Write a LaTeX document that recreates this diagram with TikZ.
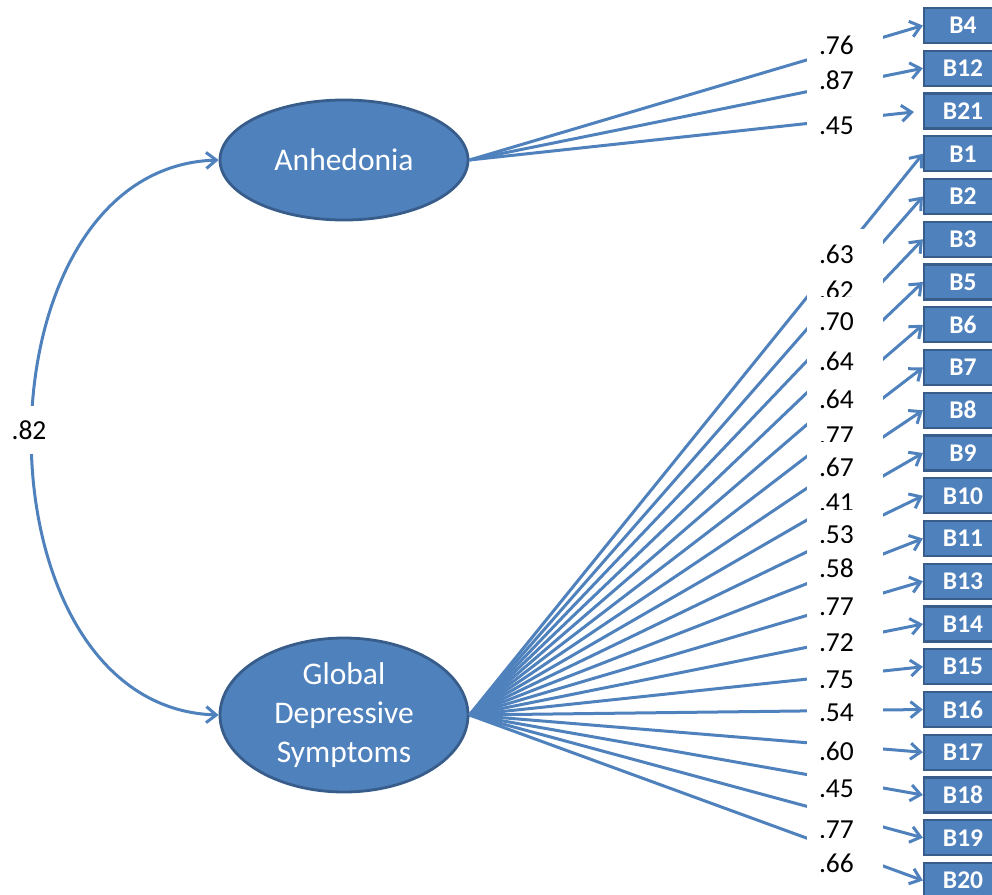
\documentclass[tikz,border=0pt]{standalone}
\usepackage{fontspec}
\setmainfont{Carlito}
\usetikzlibrary{arrows.meta,shapes.geometric}
\definecolor{ablue}{HTML}{4F81BD}
\definecolor{dblue}{HTML}{385D8A}
\begin{document}
\begin{tikzpicture}[x=1pt,y=-1pt,
  lat/.style={ellipse, fill=ablue, draw=dblue, line width=2.8pt, text=white,
    font=\fontsize{31.5}{39}\selectfont, align=center, minimum width=248, inner sep=0pt},
  obs/.style={rectangle, fill=ablue, draw=dblue, line width=2.2pt, text=white,
    font=\fontsize{25.5}{25.5}\bfseries\selectfont, minimum width=78, minimum height=35, inner sep=0pt},
  arr/.style={draw=ablue, line width=3pt, -{Straight Barb[length=10pt,width=16pt]}},
  lab/.style={fill=white, text width=52, inner xsep=12, inner ysep=0, minimum height=50,
    align=left, font=\fontsize{27.5}{30}\selectfont}]
\useasboundingbox (0,0) rectangle (992,894);
\clip (0,0) rectangle (992,894);
\node[lat, minimum height=120] (A) at (344,160) {Anhedonia};
\node[lat, minimum height=154] (G) at (344,715) {Global\\Depressive\\Symptoms};
% indicator boxes
\foreach \n/\i in {B4/0,B12/1,B21/2,B1/3,B2/4,B3/5,B5/6,B6/7,B7/8,B8/9,B9/10,B10/11,B11/12,B13/13,B14/14,B15/15,B16/16,B17/17,B18/18,B19/19,B20/20}
  \node[obs] (\n) at (963,{25.5+42.75*\i}) {\n};
% loadings
\draw[arr] (A.east) -- (B4.west);
\draw[arr] (A.east) -- (B12.west);
\draw[arr, shorten >=9pt] (A.east) -- (B21.west);
\foreach \n in {B1,B2,B3,B5,B6,B7,B8,B9,B10,B11,B13,B14,B15,B16,B17,B18,B19,B20}
  \draw[arr] (G.east) -- (\n.west);
% correlation
\draw[draw=ablue, line width=3pt, {Straight Barb[length=10pt,width=16pt]}-{Straight Barb[length=10pt,width=16pt]}]
  (A.west) .. controls (-30,168) and (-30,707) .. (G.west);
\node[fill=white, minimum height=48, inner xsep=2, inner ysep=0, font=\fontsize{27.5}{30}\selectfont] (r) at (29,430) {.82};
% loading labels
\foreach \v/\y [count=\k] in {.76/45,.87/80,.45/126,.63/254,.62/290,.70/322,.64/361,.64/399,.77/436,.67/467,.41/503,.53/535,.58/568,.77/607,.72/643,.75/680,.54/713,.60/751,.45/789,.77/830,.66/863}
  \node[lab] (L\k) at (845,\y) {\v};
\end{tikzpicture}
\end{document}
